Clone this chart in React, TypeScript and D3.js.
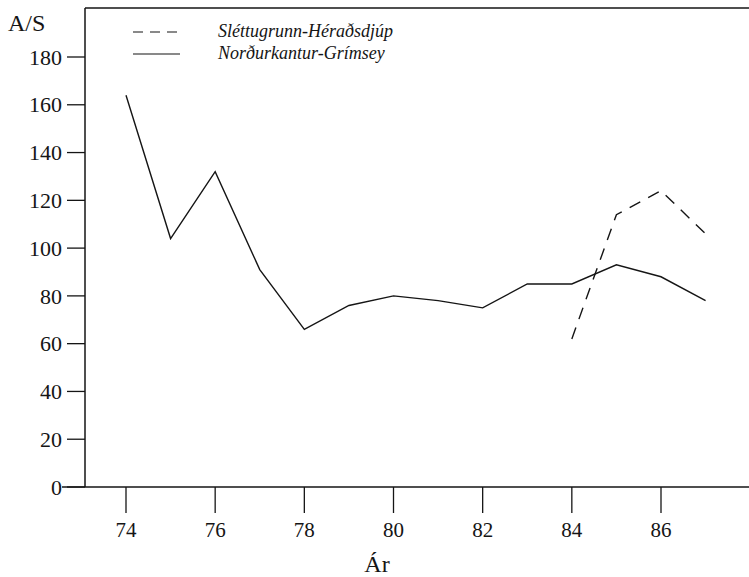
import React, { useEffect, useRef } from 'react';
import * as d3 from 'd3';

const years = [74, 75, 76, 77, 78, 79, 80, 81, 82, 83, 84, 85, 86, 87];
const grimseyValues = [164, 104, 132, 91, 66, 76, 80, 78, 75, 85, 85, 93, 88, 78];
const heradYears = [84, 85, 86, 87];
const heradValues = [62, 114, 124, 106];
const xTicks = [74, 76, 78, 80, 82, 84, 86];
const yTicks = [0, 20, 40, 60, 80, 100, 120, 140, 160, 180];
const legendLabels = ['Sléttugrunn-Héraðsdjúp', 'Norðurkantur-Grímsey'];

const W = 749;
const H = 577;

const App: React.FC = () => {
    const svgRef = useRef<SVGSVGElement>(null);

    useEffect(() => {
        if (!svgRef.current) return;
        const svg = d3.select(svgRef.current);
        svg.selectAll('*').remove();

        const font = "'Liberation Serif', 'Times New Roman', Tinos, 'DejaVu Serif', 'Noto Serif', serif";
        const ink = '#151515';
        const axisX = 85;
        const baseY = 487;
        const topY = 8;

        const x = d3.scaleLinear().domain([74, 86]).range([126, 661]);
        const y = d3.scaleLinear().domain([0, 180]).range([baseY, 57]);

        // frame: top border, y axis, x axis
        svg.append('line')
            .attr('x1', axisX).attr('y1', topY).attr('x2', W).attr('y2', topY)
            .attr('stroke', ink).attr('stroke-width', 1.3);
        svg.append('line')
            .attr('x1', axisX).attr('y1', topY).attr('x2', axisX).attr('y2', baseY)
            .attr('stroke', ink).attr('stroke-width', 1.5);
        svg.append('line')
            .attr('x1', 62).attr('y1', baseY).attr('x2', W).attr('y2', baseY)
            .attr('stroke', ink).attr('stroke-width', 1.5);

        // y ticks
        yTicks.forEach(t => {
            svg.append('line')
                .attr('x1', axisX - 18).attr('y1', y(t)).attr('x2', axisX).attr('y2', y(t))
                .attr('stroke', ink).attr('stroke-width', 1.3);
            svg.append('text')
                .attr('x', 62).attr('y', y(t)).attr('dy', '0.35em')
                .attr('text-anchor', 'end')
                .style('font-family', font).style('font-size', '22px').attr('fill', ink)
                .text(t);
        });

        // x ticks
        xTicks.forEach(t => {
            svg.append('line')
                .attr('x1', x(t)).attr('y1', baseY).attr('x2', x(t)).attr('y2', baseY + 26)
                .attr('stroke', ink).attr('stroke-width', 1.3);
            svg.append('text')
                .attr('x', x(t)).attr('y', 537)
                .attr('text-anchor', 'middle')
                .style('font-family', font).style('font-size', '21px').attr('fill', ink)
                .text(t);
        });

        // axis titles
        svg.append('text')
            .attr('x', 8).attr('y', 31)
            .style('font-family', font).style('font-size', '24px').attr('fill', ink)
            .text('A/S');
        svg.append('text')
            .attr('x', 377).attr('y', 572)
            .attr('text-anchor', 'middle')
            .style('font-family', font).style('font-size', '24px').attr('fill', ink)
            .text('Ár');

        // series
        const line = d3.line<[number, number]>()
            .x(d => x(d[0]))
            .y(d => y(d[1]));

        svg.append('path')
            .datum(years.map((yr, i) => [yr, grimseyValues[i]] as [number, number]))
            .attr('d', line)
            .attr('fill', 'none')
            .attr('stroke', ink)
            .attr('stroke-width', 1.4)
            .attr('stroke-linejoin', 'miter');

        svg.append('path')
            .datum(heradYears.map((yr, i) => [yr, heradValues[i]] as [number, number]))
            .attr('d', line)
            .attr('fill', 'none')
            .attr('stroke', ink)
            .attr('stroke-width', 1.4)
            .attr('stroke-dasharray', '12,9');

        // legend
        const legend = svg.append('g');
        [32, 54].forEach((ly, i) => {
            legend.append('line')
                .attr('x1', 133).attr('y1', ly).attr('x2', 180).attr('y2', ly)
                .attr('stroke', ink).attr('stroke-width', 1.2)
                .attr('stroke-dasharray', i === 0 ? '10,7' : null);
            legend.append('text')
                .attr('x', 218).attr('y', ly + 5)
                .style('font-family', font).style('font-style', 'italic')
                .style('font-size', '18px').attr('fill', ink)
                .text(legendLabels[i]);
        });
    }, []);

    return (
        <svg
            ref={svgRef}
            width={W}
            height={H}
            style={{ position: 'absolute', left: 0, top: 0, background: '#fff' }}
        />
    );
};

export default App;
